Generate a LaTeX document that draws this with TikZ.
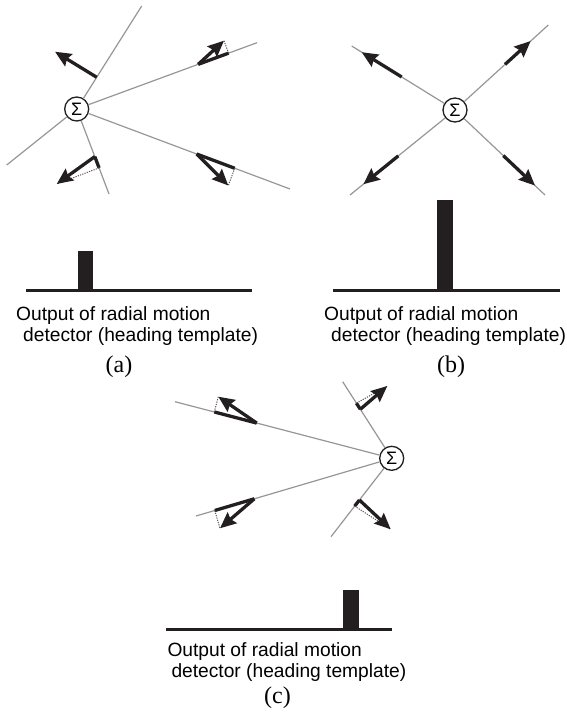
\documentclass[tikz,border=0pt]{standalone}
\usepackage{fontspec}
\setmainfont{Liberation Serif}
\setsansfont{Liberation Sans}
\usetikzlibrary{positioning, arrows.meta, calc}
\definecolor{raygray}{RGB}{150,150,150}
\definecolor{inkblack}{RGB}{35,31,32}

\begin{document}
\begin{tikzpicture}[
    x=1pt, y=-1pt, % pixel grid, y downwards
    sumnode/.style={
        circle,
        draw=inkblack,
        fill=white,
        line width=1.3pt,
        minimum size=24pt,
        inner sep=0pt,
        font=\sffamily\fontsize{18}{18}\selectfont
    },
    ray/.style={draw=raygray, line width=1.2pt},
    flow/.style={
        -{Stealth[length=16pt,width=14pt,inset=2pt]},
        line width=3.3pt,
        draw=inkblack
    },
    radial/.style={line width=3.3pt, draw=inkblack},
    ortho/.style={draw=inkblack!75, line width=1pt, dash pattern=on 1.2pt off 1.2pt},
    axisline/.style={line width=3pt, draw=inkblack},
    bar/.style={fill=inkblack},
    caption/.style={
        font=\sffamily\fontsize{19.2}{23}\selectfont,
        anchor=base west,
        inner sep=0pt
    },
    panel/.style={font=\rmfamily\fontsize{24}{24}\selectfont, inner sep=0pt}
]
\useasboundingbox (0,0) rectangle (567,720);

% ---------------- Panel (a) ----------------
\coordinate (a1) at (141.7,6);
\coordinate (a2) at (257,42.7);
\coordinate (a3) at (290,189);
\coordinate (a4) at (109,194);
\coordinate (a5) at (6.7,165);
\node[sumnode] (sumA) at (76.7,109) {Σ};
\draw[ray] (sumA) -- (a1);
\draw[ray] (sumA) -- (a2);
\draw[ray] (sumA) -- (a3);
\draw[ray] (sumA) -- (a4);
\draw[ray] (sumA) -- (a5);

% vector on upper ray (purely sideways)
\coordinate (a1b) at ($(sumA)!0.308!(a1)$);
\coordinate (a1t) at (55,51.7);
\draw[flow] (a1b) -- (a1t);

% vector on upper right ray
\coordinate (a2b) at ($(sumA)!0.674!(a2)$);
\coordinate (a2t) at (224,40.7);
\coordinate (a2p) at ($(sumA)!(a2t)!(a2)$);
\draw[radial] (a2b) -- (a2p);
\draw[ortho] (a2p) -- (a2t);
\draw[flow] (a2b) -- (a2t);

% vector on lower right ray
\coordinate (a3b) at ($(sumA)!0.5626!(a3)$);
\coordinate (a3t) at (228.3,185.5);
\coordinate (a3p) at ($(sumA)!(a3t)!(a3)$);
\draw[radial] (a3b) -- (a3p);
\draw[ortho] (a3p) -- (a3t);
\draw[flow] (a3b) -- (a3t);

% vector on lower ray
\coordinate (a4b) at ($(sumA)!0.56!(a4)$);
\coordinate (a4t) at (56.7,184);
\coordinate (a4p) at ($(sumA)!(a4t)!(a4)$);
\draw[radial] (a4b) -- (a4p);
\draw[ortho] (a4p) -- (a4t);
\draw[flow] (a4b) -- (a4t);

% output
\draw[axisline] (26,290) -- (252,290);
\fill[bar] (78,251) rectangle (93,290);
\node[caption] (capA1) at (16,320) {Output of radial motion};
\node[caption] (capA2) at ([xshift=7pt,yshift=-21pt]capA1.base west) {detector (heading template)};
\node[panel] (labA) at (119,367) {(a)};

% ---------------- Panel (b) ----------------
\coordinate (b1) at (351.7,46);
\coordinate (b2) at (548.3,25);
\coordinate (b3) at (350,195);
\coordinate (b4) at (545,195);
\node[sumnode] (sumB) at (455,110) {Σ};
\draw[ray] (sumB) -- (b1);
\draw[ray] (sumB) -- (b2);
\draw[ray] (sumB) -- (b3);
\draw[ray] (sumB) -- (b4);

\coordinate (b1b) at ($(sumB)!0.516!(b1)$);
\coordinate (b1t) at ($(sumB)!0.903!(b1)$);
\coordinate (b2b) at ($(sumB)!0.536!(b2)$);
\coordinate (b2t) at ($(sumB)!0.811!(b2)$);
\coordinate (b3b) at ($(sumB)!0.54!(b3)$);
\coordinate (b3t) at ($(sumB)!0.873!(b3)$);
\coordinate (b4b) at ($(sumB)!0.537!(b4)$);
\coordinate (b4t) at ($(sumB)!0.889!(b4)$);
\draw[flow] (b1b) -- (b1t);
\draw[flow] (b2b) -- (b2t);
\draw[flow] (b3b) -- (b3t);
\draw[flow] (b4b) -- (b4t);

% output
\draw[axisline] (333,290) -- (559.5,290);
\fill[bar] (437,200) rectangle (453,290);
\node[caption] (capB1) at (324,320) {Output of radial motion};
\node[caption] (capB2) at ([xshift=7pt,yshift=-21pt]capB1.base west) {detector (heading template)};
\node[panel] (labB) at (451,367) {(b)};

% ---------------- Panel (c) ----------------
\coordinate (c1) at (342.7,381.7);
\coordinate (c2) at (175,401.7);
\coordinate (c3) at (196,516);
\coordinate (c4) at (331,536.7);
\node[sumnode] (sumC) at (391.7,458.3) {Σ};
\draw[ray] (sumC) -- (c1);
\draw[ray] (sumC) -- (c2);
\draw[ray] (sumC) -- (c3);
\draw[ray] (sumC) -- (c4);

% vector on upper left ray
\coordinate (c1b) at ($(sumC)!0.64!(c1)$);
\coordinate (c1t) at (387.3,386);
\coordinate (c1p) at ($(sumC)!0.72!(c1)$);
\draw[radial] (c1b) -- (c1p);
\draw[ortho] (c1p) -- (c1t);
\draw[flow] (c1b) -- (c1t);

% vector on left upper ray
\coordinate (c2b) at ($(sumC)!0.623!(c2)$);
\coordinate (c2t) at (218.3,396.7);
\coordinate (c2p) at ($(sumC)!(c2t)!(c2)$);
\draw[radial] (c2b) -- (c2p);
\draw[ortho] (c2p) -- (c2t);
\draw[flow] (c2b) -- (c2t);

% vector on left lower ray
\coordinate (c3b) at ($(sumC)!0.702!(c3)$);
\coordinate (c3t) at (220,528.3);
\coordinate (c3p) at ($(sumC)!(c3t)!(c3)$);
\draw[radial] (c3b) -- (c3p);
\draw[ortho] (c3p) -- (c3t);
\draw[flow] (c3b) -- (c3t);

% vector on lower left ray
\coordinate (c4b) at ($(sumC)!0.532!(c4)$);
\coordinate (c4t) at (390.7,529.3);
\coordinate (c4p) at ($(sumC)!0.61!(c4)$);
\draw[radial] (c4b) -- (c4p);
\draw[ortho] (c4p) -- (c4t);
\draw[flow] (c4b) -- (c4t);

% output
\draw[axisline] (166,629) -- (392.3,629);
\fill[bar] (343.3,590) rectangle (359,629);
\node[caption] (capC1) at (167.3,656) {Output of radial motion};
\node[caption] (capC2) at ([xshift=4pt,yshift=-21pt]capC1.base west) {detector (heading template)};
\node[panel] (labC) at (277.5,697.5) {(c)};

\end{tikzpicture}
\end{document}
